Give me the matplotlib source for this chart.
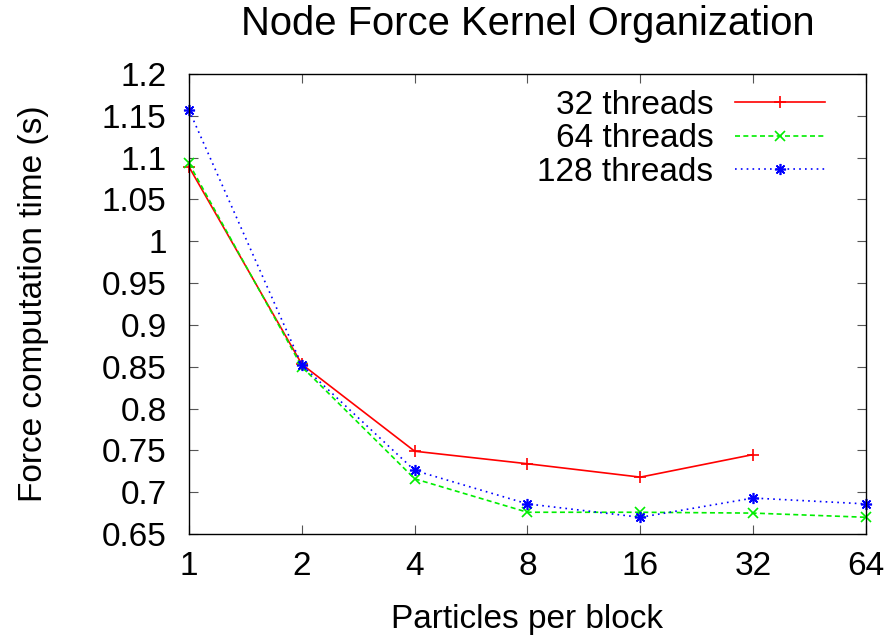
import matplotlib
matplotlib.use('Agg')
import matplotlib.pyplot as plt

plt.rcParams['font.family'] = ['Liberation Sans', 'DejaVu Sans']
plt.rcParams['font.size'] = 24

particles = [1, 2, 4, 8, 16, 32, 64]
threads_32 = [1.089, 0.853, 0.749, 0.734, 0.718, 0.745]
threads_64 = [1.093, 0.850, 0.716, 0.676, 0.676, 0.675, 0.670]
threads_128 = [1.157, 0.852, 0.726, 0.686, 0.670, 0.693, 0.686]
y_ticks = [0.65, 0.7, 0.75, 0.8, 0.85, 0.9, 0.95, 1.0, 1.05, 1.1, 1.15, 1.2]
y_labels = ['0.65', '0.7', '0.75', '0.8', '0.85', '0.9', '0.95', '1', '1.05', '1.1', '1.15', '1.2']

fig, ax = plt.subplots(figsize=(8.93, 6.38), dpi=100)
fig.subplots_adjust(left=0.2116, right=0.9698, top=0.884, bottom=0.163)

ax.plot(particles[:len(threads_32)], threads_32, '-', color='#ff0000', lw=1.2,
        marker='+', ms=8, mew=1.2, label='32 threads', clip_on=False)
ax.plot(particles, threads_64, color='#00ee00', lw=1.2, ls=(0, (3, 2)),
        marker='x', ms=6.5, mew=1.2, label='64 threads', clip_on=False)
ax.plot(particles, threads_128, color='#0000ff', lw=1.2, ls=(0, (1, 2.5)),
        marker=(8, 2, 0), ms=8, mew=1.2, label='128 threads', clip_on=False)

ax.set_xscale('log', base=2)
ax.set_xlim(1, 64)
ax.set_xticks(particles)
ax.set_xticklabels([str(p) for p in particles])
ax.minorticks_off()
ax.set_ylim(0.65, 1.2)
ax.set_yticks(y_ticks)
ax.set_yticklabels(y_labels)

ax.tick_params(direction='in', top=True, right=True, length=6.5, width=0.8, color='#555555')
ax.tick_params(axis='x', pad=12)
ax.tick_params(axis='y', pad=16)
for spine in ax.spines.values():
    spine.set_linewidth(1.0)

ax.set_title('Node Force Kernel Organization', pad=28)
ax.set_xlabel('Particles per block', labelpad=16)
ax.set_ylabel('Force computation time (s)', labelpad=38)

ax.legend(loc='upper right', bbox_to_anchor=(0.94, 0.966), frameon=False,
          markerfirst=False, numpoints=1, handlelength=2.7, handletextpad=0.66,
          labelspacing=0.08, borderpad=0, borderaxespad=0)

fig.savefig('out.png', dpi=100)
